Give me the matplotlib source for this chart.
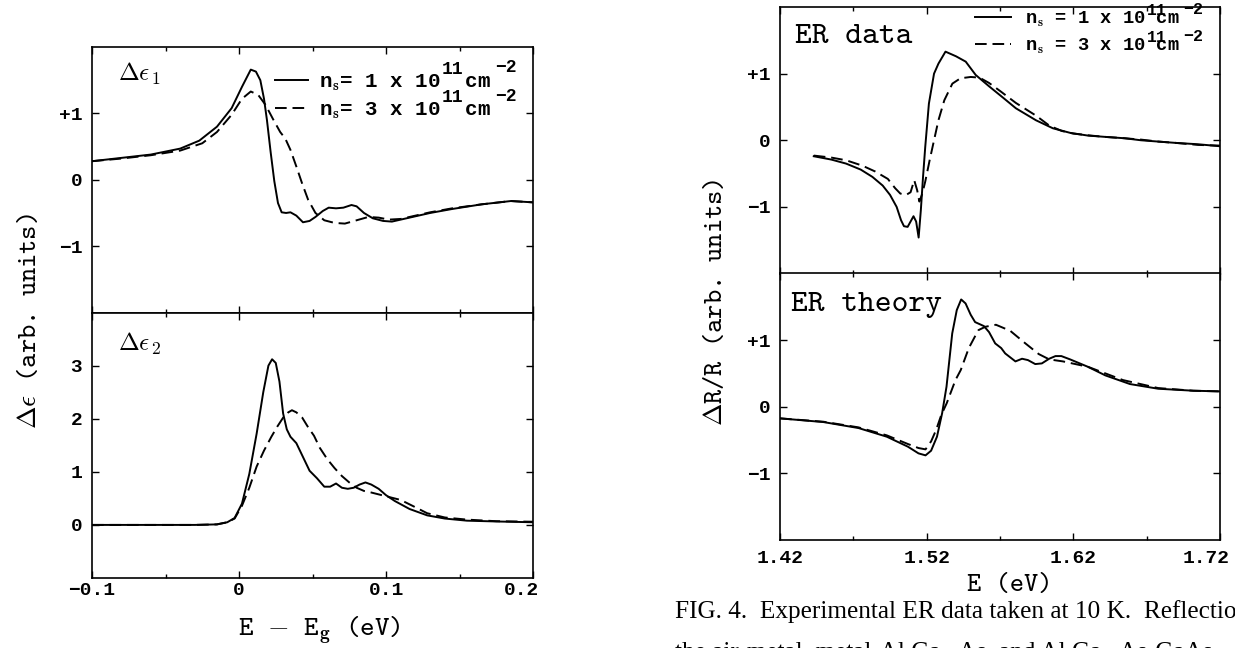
import matplotlib
matplotlib.use('Agg')
import matplotlib.pyplot as plt
from matplotlib.font_manager import FontProperties
from matplotlib.ticker import FixedLocator
from matplotlib.transforms import ScaledTranslation

plt.rcParams['mathtext.fontset'] = 'cm'

# --- left panel: delta eps1 / eps2 vs E - Eg (eV) ---
eps1_x_n1 = [-0.100, -0.080, -0.060, -0.040, -0.027, -0.015, -0.005, 0.002, 0.008, 0.0115,
             0.0145, 0.017, 0.019, 0.0215, 0.024, 0.0265, 0.029, 0.032, 0.035, 0.039, 0.0435,
             0.048, 0.052, 0.057, 0.061, 0.066, 0.071, 0.0765, 0.080, 0.085, 0.091, 0.098,
             0.104, 0.116, 0.130, 0.145, 0.165, 0.185, 0.200]
eps1_n1 = [0.28, 0.33, 0.38, 0.47, 0.59, 0.80, 1.08, 1.40, 1.66, 1.63,
           1.50, 1.22, 0.90, 0.42, -0.02, -0.35, -0.49, -0.50, -0.49, -0.54, -0.64,
           -0.62, -0.56, -0.47, -0.42, -0.43, -0.42, -0.38, -0.40, -0.50, -0.58, -0.62,
           -0.63, -0.57, -0.50, -0.44, -0.37, -0.32, -0.34]
eps1_x_n3 = [-0.100, -0.080, -0.060, -0.040, -0.025, -0.015, -0.005, 0.002, 0.008, 0.013,
             0.018, 0.023, 0.028, 0.0315, 0.035, 0.039, 0.043, 0.047, 0.052, 0.058, 0.065,
             0.072, 0.080, 0.088, 0.095, 0.102, 0.110, 0.116, 0.130, 0.145, 0.165, 0.185, 0.200]
eps1_n3 = [0.28, 0.32, 0.37, 0.44, 0.55, 0.72, 0.98, 1.22, 1.33, 1.28,
           1.13, 0.92, 0.72, 0.62, 0.45, 0.20, -0.06, -0.30, -0.50, -0.61, -0.65,
           -0.66, -0.61, -0.56, -0.57, -0.60, -0.59, -0.56, -0.49, -0.43, -0.37, -0.32, -0.34]

eps2_x_n1 = [-0.100, -0.030, -0.015, -0.008, -0.003, 0.002, 0.007, 0.012, 0.0165, 0.020,
             0.0225, 0.025, 0.0275, 0.030, 0.0325, 0.035, 0.039, 0.0435, 0.048, 0.053, 0.058,
             0.062, 0.066, 0.070, 0.074, 0.078, 0.082, 0.086, 0.090, 0.095, 0.100, 0.106,
             0.116, 0.128, 0.140, 0.155, 0.175, 0.200]
eps2_n1 = [0.0, 0.0, 0.01, 0.05, 0.13, 0.40, 0.96, 1.72, 2.50, 3.00,
           3.12, 3.05, 2.70, 2.10, 1.80, 1.66, 1.54, 1.28, 1.02, 0.88, 0.72,
           0.72, 0.78, 0.70, 0.68, 0.70, 0.76, 0.80, 0.76, 0.68, 0.56, 0.45,
           0.30, 0.18, 0.12, 0.08, 0.065, 0.05]
eps2_x_n3 = [-0.100, -0.030, -0.015, -0.008, -0.003, 0.002, 0.007, 0.012, 0.017, 0.022,
             0.026, 0.030, 0.0335, 0.036, 0.039, 0.043, 0.047, 0.051, 0.055, 0.060, 0.065,
             0.070, 0.075, 0.080, 0.085, 0.090, 0.100, 0.110, 0.118, 0.128, 0.140, 0.155,
             0.175, 0.200]
eps2_n3 = [0.0, 0.0, 0.01, 0.05, 0.12, 0.36, 0.70, 1.10, 1.40, 1.66,
           1.85, 2.02, 2.12, 2.16, 2.12, 2.02, 1.84, 1.68, 1.45, 1.24, 1.07,
           0.92, 0.80, 0.70, 0.64, 0.61, 0.54, 0.47, 0.36, 0.22, 0.14, 0.10,
           0.07, 0.06]

# --- right panel: ER data / theory vs E (eV) ---
erd_x_n1 = [1.443, 1.455, 1.465, 1.475, 1.483, 1.490, 1.495, 1.4995, 1.5025, 1.5045,
            1.507, 1.509, 1.511, 1.5128, 1.5145, 1.516, 1.5175, 1.519, 1.5215, 1.525,
            1.528, 1.5328, 1.540, 1.5466, 1.5534, 1.5625, 1.572, 1.5808, 1.5945, 1.606,
            1.618, 1.630, 1.642, 1.655, 1.666, 1.678, 1.690, 1.705, 1.720]
erd_n1 = [-0.24, -0.29, -0.35, -0.44, -0.55, -0.68, -0.82, -1.00, -1.20, -1.29,
          -1.30, -1.22, -1.14, -1.22, -1.46, -1.05, -0.55, -0.10, 0.55, 1.00,
          1.15, 1.33, 1.26, 1.18, 0.98, 0.81, 0.64, 0.48, 0.30, 0.18,
          0.11, 0.07, 0.05, 0.03, 0.00, -0.02, -0.04, -0.06, -0.09]
erd_x_n3 = [1.443, 1.455, 1.465, 1.476, 1.485, 1.4935, 1.4985, 1.502, 1.506, 1.509,
            1.5115, 1.5135, 1.515, 1.517, 1.519, 1.522, 1.525, 1.528, 1.532, 1.5375,
            1.543, 1.550, 1.556, 1.5625, 1.570, 1.5808, 1.5945, 1.6036, 1.612, 1.620,
            1.632, 1.642, 1.655, 1.666, 1.678, 1.690, 1.705, 1.720]
erd_n3 = [-0.23, -0.26, -0.30, -0.38, -0.47, -0.58, -0.72, -0.80, -0.82, -0.78,
          -0.60, -0.75, -0.92, -0.80, -0.62, -0.30, 0.00, 0.30, 0.60, 0.85,
          0.93, 0.95, 0.94, 0.86, 0.74, 0.56, 0.37, 0.22, 0.14, 0.10,
          0.07, 0.05, 0.03, 0.01, -0.02, -0.04, -0.07, -0.08]

ert_x_n1 = [1.420, 1.4495, 1.4735, 1.4928, 1.5072, 1.5144, 1.5192, 1.523, 1.527, 1.5305,
            1.5335, 1.5374, 1.5405, 1.5435, 1.5465, 1.550, 1.553, 1.559, 1.5625, 1.5667,
            1.5708, 1.5735, 1.5805, 1.585, 1.589, 1.594, 1.5985, 1.6035, 1.6078, 1.6118,
            1.6178, 1.6298, 1.6418, 1.6586, 1.6778, 1.7018, 1.720]
ert_n1 = [-0.175, -0.23, -0.32, -0.45, -0.60, -0.70, -0.73, -0.66, -0.45, -0.10,
          0.30, 1.10, 1.45, 1.61, 1.55, 1.38, 1.27, 1.21, 1.12, 0.95,
          0.88, 0.80, 0.68, 0.72, 0.70, 0.64, 0.65, 0.72, 0.76, 0.76,
          0.71, 0.60, 0.47, 0.34, 0.27, 0.24, 0.23]
ert_x_n3 = [1.420, 1.4495, 1.4735, 1.4928, 1.5072, 1.5144, 1.5192, 1.523, 1.5264, 1.530,
            1.5336, 1.5396, 1.5432, 1.5487, 1.5528, 1.5553, 1.560, 1.5672, 1.5769, 1.5873,
            1.5964, 1.6036, 1.6129, 1.6298, 1.6538, 1.6778, 1.7018, 1.720]
ert_n3 = [-0.175, -0.225, -0.31, -0.43, -0.56, -0.62, -0.64, -0.52, -0.35, -0.12,
          0.05, 0.40, 0.55, 0.88, 1.05, 1.15, 1.20, 1.23, 1.14, 0.95,
          0.79, 0.71, 0.68, 0.60, 0.40, 0.28, 0.24, 0.23]

left_xticks = [-0.1, 0.0, 0.1, 0.2]
left_xticklabels = ['\u22120.1', '0', '0.1', '0.2']
right_xticks = [1.42, 1.52, 1.62, 1.72]
right_xticklabels = ['1.42', '1.52', '1.62', '1.72']
pm_ticks = [-1, 0, 1]
pm_labels = ['\u22121', '0', '+1']
eps2_ticks = [0, 1, 2, 3]
eps2_labels = ['0', '1', '2', '3']

# legend labels: base part, the raised exponents are added beside them
leg_n1 = r'n$_{\mathbf{s}}$= 1 x 10  cm'
leg_n3 = r'n$_{\mathbf{s}}$= 3 x 10  cm'
leg_n1r = r'n$_{\mathbf{s}}$ = 1 x 10 cm'
leg_n3r = r'n$_{\mathbf{s}}$ = 3 x 10 cm'
exp_10 = '11'
exp_cm = '\u22122'

tick_font = FontProperties(family='Liberation Mono', weight='bold', size=14)
leg_font = FontProperties(family='Liberation Mono', weight='bold', size=15)
leg_font_r = FontProperties(family='Liberation Mono', weight='bold', size=13.5)
sup_font = FontProperties(family='Liberation Mono', weight='bold', size=13)
sup_font_r = FontProperties(family='Liberation Mono', weight='bold', size=12)
tt = ['cmtt10', 'DejaVu Serif']

LW = 1.4
DASH = (6, 3)


def style(ax, xlim, xticks, xminor, xlabels, ylim, yticks, ylabels, xpad, last_shift):
    ax.set_xlim(xlim)
    ax.set_ylim(ylim)
    ax.xaxis.set_major_locator(FixedLocator(xticks))
    ax.xaxis.set_minor_locator(FixedLocator(xminor))
    ax.set_yticks(yticks)
    ax.set_yticklabels(ylabels)
    if xlabels is None:
        ax.set_xticklabels([])
    else:
        ax.set_xticklabels(xlabels)
    ax.tick_params(which='both', direction='in', top=True, right=True, width=1.0)
    ax.tick_params(which='major', length=5)
    ax.tick_params(which='minor', length=3)
    ax.tick_params(axis='x', pad=xpad)
    ax.tick_params(axis='y', pad=7)
    for lab in ax.get_xticklabels() + ax.get_yticklabels():
        lab.set_fontproperties(tick_font)
    if xlabels is not None:
        # last label is pulled in a little, as in the original
        lab = ax.get_xticklabels()[-1]
        lab.set_transform(lab.get_transform() +
                          ScaledTranslation(last_shift / 72, 0, ax.figure.dpi_scale_trans))
    for sp in ax.spines.values():
        sp.set_linewidth(1.2)


def add_exponents(ax, leg, frac, font, dy10, dycm):
    for t in leg.get_texts():
        ax.annotate(exp_10, xy=(frac, 1.0), xycoords=t, xytext=(2, dy10),
                    textcoords='offset points', ha='left', va='bottom',
                    fontproperties=font, zorder=10)
        ax.annotate(exp_cm, xy=(1.0, 1.0), xycoords=t, xytext=(3, dycm),
                    textcoords='offset points', ha='left', va='bottom',
                    fontproperties=font, zorder=10)


fig = plt.figure(figsize=(12.35, 6.48), dpi=100)

# left column
axL1 = fig.add_axes([0.0745, 0.5177, 0.3571, 0.4097])
axL2 = fig.add_axes([0.0745, 0.1080, 0.3571, 0.4097])
# right column
axR1 = fig.add_axes([0.6316, 0.5779, 0.3563, 0.4113])
axR2 = fig.add_axes([0.6316, 0.1667, 0.3563, 0.4113])

axL1.plot(eps1_x_n1, eps1_n1, color='black', lw=LW, label=leg_n1)
axL1.plot(eps1_x_n3, eps1_n3, color='black', lw=LW, dashes=DASH, label=leg_n3)
axL2.plot(eps2_x_n1, eps2_n1, color='black', lw=LW)
axL2.plot(eps2_x_n3, eps2_n3, color='black', lw=LW, dashes=DASH)
axR1.plot(erd_x_n1, erd_n1, color='black', lw=LW, label=leg_n1r)
axR1.plot(erd_x_n3, erd_n3, color='black', lw=LW, dashes=DASH, label=leg_n3r)
axR2.plot(ert_x_n1, ert_n1, color='black', lw=LW)
axR2.plot(ert_x_n3, ert_n3, color='black', lw=LW, dashes=DASH)

left_minor = [-0.05, 0.05, 0.15]
right_minor = [1.47, 1.57, 1.67]
style(axL1, (-0.1, 0.2), left_xticks, left_minor, None, (-2, 2), pm_ticks, pm_labels, 3, 0)
style(axL2, (-0.1, 0.2), left_xticks, left_minor, left_xticklabels, (-1, 4), eps2_ticks,
      eps2_labels, 3, -8.5)
style(axR1, (1.42, 1.72), right_xticks, right_minor, None, (-2, 2), pm_ticks, pm_labels, 7, 0)
style(axR2, (1.42, 1.72), right_xticks, right_minor, right_xticklabels, (-2, 2), pm_ticks,
      pm_labels, 7, -10)

# panel labels
axL1.text(0.06, 0.95, r'$\Delta\epsilon_{\,1}$', transform=axL1.transAxes, fontsize=18, va='top')
axL2.text(0.06, 0.93, r'$\Delta\epsilon_{\,2}$', transform=axL2.transAxes, fontsize=18, va='top')
axR1.text(0.034, 0.935, 'ER data', transform=axR1.transAxes, family=tt, fontsize=23, va='top')
axR2.text(0.024, 0.93, 'ER theory', transform=axR2.transAxes, family=tt, fontsize=23, va='top')

# legends
legL = axL1.legend(loc='upper left', bbox_to_anchor=(0.415, 0.905), frameon=False, prop=leg_font,
                   handlelength=1.6, handletextpad=0.5, labelspacing=0.38, borderpad=0,
                   borderaxespad=0)
add_exponents(axL1, legL, 0.70, sup_font, -4, -3)
legR = axR1.legend(loc='upper left', bbox_to_anchor=(0.443, 0.99), frameon=False, prop=leg_font_r,
                   handlelength=1.9, handletextpad=0.75, labelspacing=0.42, borderpad=0,
                   borderaxespad=0)
add_exponents(axR1, legR, 0.775, sup_font_r, -6, -5.5)

# axis labels
fig.text(0.024, 0.505, r'$\Delta\epsilon$ (arb. units)', rotation=90, family=tt, fontsize=19.5,
         ha='center', va='center')
fig.text(0.579, 0.533, r'$\Delta$R/R (arb. units)', rotation=90, family=tt, fontsize=19.5,
         ha='center', va='center')
fig.text(0.259, 0.028, r'E $-$ E$_{\mathbf{g}}$ (eV)', family=tt, fontsize=20,
         ha='center', va='center')
fig.text(0.818, 0.097, 'E (eV)', family=tt, fontsize=19.5, ha='center', va='center')

# caption fragment, cut by the page edge as in the scan
fig.text(0.5466, 0.0463, 'FIG. 4.  Experimental ER data taken at 10 K.  Reflectio',
         family='Liberation Serif', fontsize=18.2, ha='left', va='baseline')
fig.text(0.5466, -0.0154, 'the air-metal, metal-Al Ga   As, and Al Ga   As-GaAs',
         family='Liberation Serif', fontsize=18.2, ha='left', va='baseline')

fig.savefig('out.png', dpi=100)
